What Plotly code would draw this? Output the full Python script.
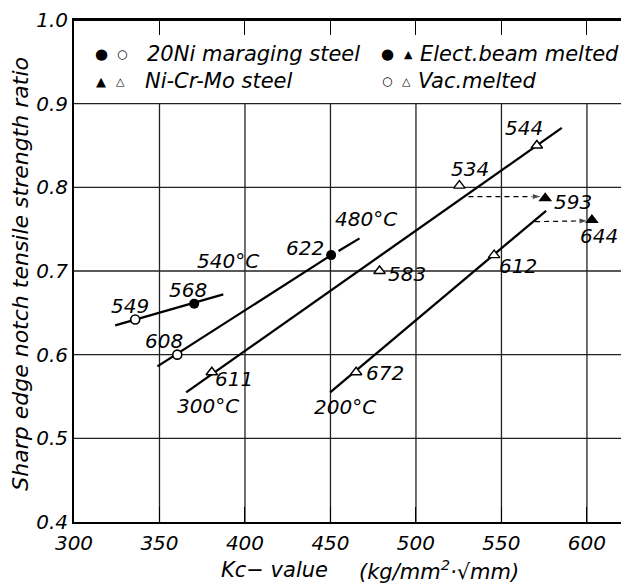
import plotly.graph_objects as go

# ---------------- data ----------------
x_ticks = [300, 350, 400, 450, 500, 550, 600]
y_ticks = [0.4, 0.5, 0.6, 0.7, 0.8, 0.9, 1.0]
y_tick_labels = ["0.4", "0.5", "0.6", "0.7", "0.8", "0.9", "1.0"]

# 20Ni maraging steel, vacuum melted (open circles)
mar_vac_x = [335.8, 360.4]
mar_vac_y = [0.642, 0.600]
mar_vac_lbl = ["549", "608"]
# 20Ni maraging steel, electron beam melted (filled circles)
mar_eb_x = [370.3, 450.4]
mar_eb_y = [0.661, 0.719]
mar_eb_lbl = ["568", "622"]
# Ni-Cr-Mo steel, vacuum melted (open triangles)
ncm_vac_x = [380.6, 478.7, 525.4, 570.7, 465.0, 545.7]
ncm_vac_y = [0.579, 0.700, 0.802, 0.850, 0.579, 0.719]
ncm_vac_lbl = ["611", "583", "534", "544", "672", "612"]
# Ni-Cr-Mo steel, electron beam melted (filled triangles)
ncm_eb_x = [575.6, 602.9]
ncm_eb_y = [0.787, 0.761]
ncm_eb_lbl = ["593", "644"]

# trend lines
trend_lines = {
    "mar_low": ([324.1, 387.3], [0.635, 0.672]),
    "540C": ([348.8, 450.4], [0.586, 0.719]),
    "480C": ([454.7, 467.0], [0.724, 0.739]),
    "300C": ([365.6, 585.3], [0.555, 0.871]),
    "200C": ([449.8, 576.1], [0.555, 0.772]),
}
# dashed shift arrows (vac melted -> elect. beam melted)
arrow_x = [[530.7, 573.6], [569.7, 600.9]]
arrow_y = [[0.789, 0.789], [0.759, 0.760]]

temp_lbl = ["540°C", "480°C", "300°C", "200°C"]
temp_x = [389.8, 471.0, 378.1, 458.6]
temp_y = [0.712, 0.762, 0.539, 0.538]

# label offsets in px (style)
lbl_shift = {
    "549": (-5, 14), "608": (-13, 14), "568": (-6, 14), "622": (-26, 7),
    "611": (22, -7), "583": (27, -3), "534": (11, 17), "544": (-13, 18),
    "672": (29, -1), "612": (24, -11), "593": (28, -4), "644": (7, -16),
}

FONT = "DejaVu Sans"
FS = 20
X0, X1 = 300, 624.6
Y0, Y1 = 0.4, 1.0

fig = go.Figure()

for name, (lx, ly) in trend_lines.items():
    fig.add_trace(go.Scatter(x=lx, y=ly, mode="lines",
                             line=dict(color="black", width=2.3),
                             showlegend=False, hoverinfo="skip"))

for ax_, ay_ in zip(arrow_x, arrow_y):
    fig.add_trace(go.Scatter(x=ax_, y=ay_, mode="lines+markers",
                             line=dict(color="black", width=1.2, dash="5px,4px"),
                             marker=dict(symbol="arrow", size=[0, 10], angleref="previous",
                                         color="black"),
                             showlegend=False, hoverinfo="skip"))

fig.add_trace(go.Scatter(x=mar_vac_x, y=mar_vac_y, mode="markers",
                         marker=dict(symbol="circle", size=9, color="white",
                                     line=dict(color="black", width=1.6)),
                         showlegend=False))
fig.add_trace(go.Scatter(x=mar_eb_x, y=mar_eb_y, mode="markers",
                         marker=dict(symbol="circle", size=10, color="black"),
                         showlegend=False))
fig.add_trace(go.Scatter(x=ncm_vac_x, y=ncm_vac_y, mode="markers",
                         marker=dict(symbol="triangle-up", size=10, color="white",
                                     line=dict(color="black", width=1.4)),
                         showlegend=False))
fig.add_trace(go.Scatter(x=ncm_eb_x, y=ncm_eb_y, mode="markers",
                         marker=dict(symbol="triangle-up", size=12, color="black"),
                         showlegend=False))

ann = []
font = dict(family=FONT, size=FS, color="black", style="italic")
font_w = dict(family=FONT, size=21, color="black", style="italic")
for xs, ys, ls in [(mar_vac_x, mar_vac_y, mar_vac_lbl), (mar_eb_x, mar_eb_y, mar_eb_lbl),
                   (ncm_vac_x, ncm_vac_y, ncm_vac_lbl), (ncm_eb_x, ncm_eb_y, ncm_eb_lbl)]:
    for x, y, l in zip(xs, ys, ls):
        dx, dy = lbl_shift[l]
        ann.append(dict(x=x, y=y, xref="x", yref="y", text=l, showarrow=False,
                        xshift=dx, yshift=dy, font=font))
for t, x, y in zip(temp_lbl, temp_x, temp_y):
    ann.append(dict(x=x, y=y, xref="x", yref="y", text=t, showarrow=False, font=font))

# legend (drawn as text)
leg_rows = [
    (0.959, [("●", 316.3, 15), ("○", 328.0, 12)], "20Ni maraging steel", 341.6),
    (0.927, [("▲", 315.7, 13), ("△", 327.4, 11)], "Ni-Cr-Mo steel", 340.5),
    (0.959, [("●", 483.2, 15), ("▲", 495.4, 11)], "Elect.beam melted", 501.3),
    (0.927, [("○", 483.2, 12), ("△", 494.2, 11)], "Vac.melted", 500.1),
]
for y, syms, txt, tx in leg_rows:
    for s, sx, ss in syms:
        ann.append(dict(x=sx, y=y, xref="x", yref="y", text=s, showarrow=False,
                        font=dict(family=FONT, size=ss, color="black")))
    ann.append(dict(x=tx, y=y, xref="x", yref="y", text=txt, showarrow=False,
                    xanchor="left", font=font_w))

# axis titles
ann.append(dict(x=384.9, y=-0.095, xref="x", yref="paper", text="Kc− value",
                showarrow=False, xanchor="left", yanchor="middle", font=font_w))
ann.append(dict(x=465.6, y=-0.095, xref="x", yref="paper",
                text="(kg/mm<sup>2</sup>·√mm)",
                showarrow=False, xanchor="left", yanchor="middle", font=font_w))
ann.append(dict(x=-0.097, y=0.495, xref="paper", yref="paper", textangle=-90,
                text="Sharp edge notch tensile strength ratio",
                showarrow=False, xanchor="center", yanchor="middle",
                font=dict(family=FONT, size=22, color="black", style="italic")))

# grid lines (from tick lists) and frame top
shapes = []
for xv in x_ticks[1:]:
    shapes.append(dict(type="line", xref="x", yref="y", x0=xv, x1=xv, y0=Y0, y1=0.9,
                       line=dict(color="#222", width=1.3), layer="below"))
for yv in y_ticks[1:-1]:
    shapes.append(dict(type="line", xref="x", yref="y", x0=X0, x1=X1, y0=yv, y1=yv,
                       line=dict(color="#222", width=1.3), layer="below"))
shapes.append(dict(type="line", xref="x", yref="y", x0=X0, x1=X1, y0=Y1, y1=Y1,
                   line=dict(color="black", width=2)))

# the page body has an 8px default margin: size the figure so the plot area
# lands at the same window position as the reference
fig.update_layout(
    width=621, height=577,
    margin=dict(l=66, r=0, t=10, b=63),
    paper_bgcolor="white", plot_bgcolor="white",
    annotations=ann, shapes=shapes, showlegend=False,
    xaxis=dict(range=[X0, X1], tickvals=x_ticks, ticktext=[str(v) for v in x_ticks],
               showgrid=False, zeroline=False, showline=True, linecolor="black",
               linewidth=2, mirror="ticks", ticks="inside", ticklen=15, tickwidth=1.3,
               tickcolor="black", tickfont=font, ticklabelstandoff=2,
               ticklabeloverflow="allow"),
    yaxis=dict(range=[Y0, Y1], tickvals=y_ticks, ticktext=y_tick_labels,
               showgrid=False, zeroline=False, showline=True, linecolor="black",
               linewidth=2, ticks="", tickfont=font, ticklabeloverflow="allow"),
)

fig.write_html("out.html")
